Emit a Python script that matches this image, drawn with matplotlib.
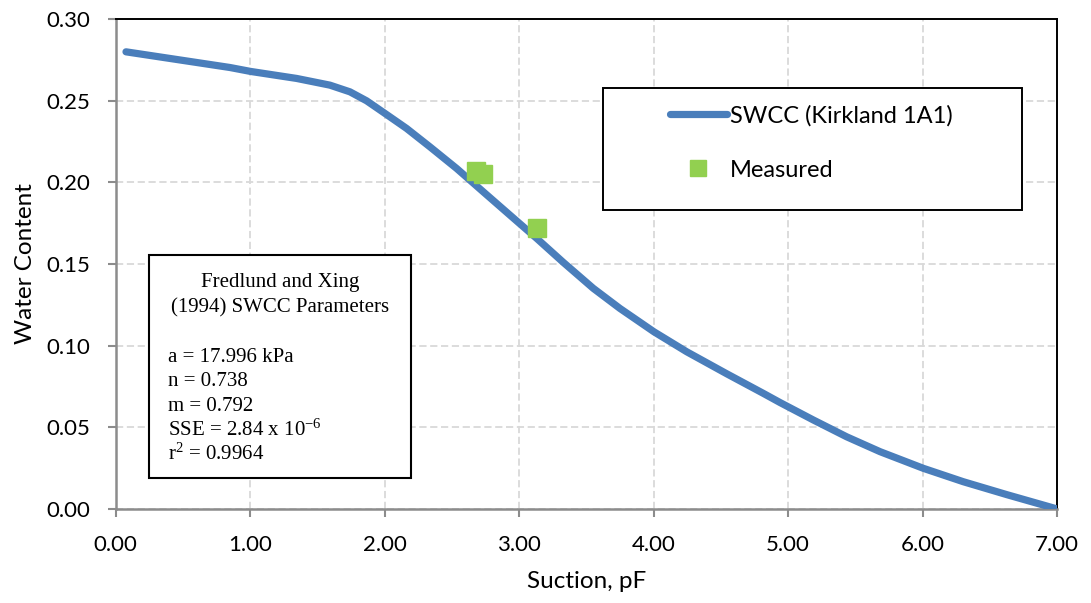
import matplotlib
matplotlib.use("Agg")
import matplotlib.pyplot as plt

# SWCC curve (suction in pF vs gravimetric water content)
suction_pf = [0.077, 0.85, 1.003, 1.346, 1.593, 1.742, 1.866, 2.002, 2.163, 2.337,
              2.535, 2.733, 2.932, 3.13, 3.328, 3.551, 3.749, 4.002, 4.245, 4.543,
              4.815, 4.939, 5.187, 5.435, 5.683, 6.005, 6.302, 6.625, 7.0]
water_content = [0.2799, 0.2703, 0.2679, 0.2636, 0.2595, 0.2554, 0.2499, 0.2422,
                 0.2330, 0.2217, 0.2085, 0.1942, 0.1799, 0.1657, 0.1510, 0.1351,
                 0.1228, 0.1085, 0.0963, 0.0828, 0.0708, 0.0652, 0.0545, 0.0442,
                 0.0351, 0.0249, 0.0167, 0.0088, 0.0000]

# Laboratory measurements
measured_pf = [2.68, 2.73, 3.135]
measured_wc = [0.2067, 0.2054, 0.1718]

x_ticks = [0, 1, 2, 3, 4, 5, 6, 7]
y_ticks = [0.00, 0.05, 0.10, 0.15, 0.20, 0.25, 0.30]

title_lines = ["Fredlund and Xing", "(1994) SWCC Parameters"]
param_lines = ["a = 17.996 kPa", "n = 0.738", "m = 0.792",
               "SSE = 2.84 x 10$^{-6}$", "r$^{2}$ = 0.9964"]

line_color = "#4a7ebb"
marker_color = "#92d050"
grid_color = "#d9d9d9"
axis_gray = "#8c8c8c"
sans = ["Lato", "DejaVu Sans"]
serif = ["Liberation Serif", "DejaVu Serif"]

plt.rcParams["mathtext.fontset"] = "custom"
plt.rcParams["mathtext.rm"] = "Liberation Serif"
plt.rcParams["mathtext.it"] = "Liberation Serif:italic"

fig = plt.figure(figsize=(10.91, 6.03), dpi=100)
ax = fig.add_axes([0.106, 0.1559, 0.863, 0.8126])

ax.plot(suction_pf, water_content, color=line_color, lw=5.2,
        solid_capstyle="round", solid_joinstyle="round",
        label="SWCC (Kirkland 1A1)", zorder=3)
ax.plot(measured_pf, measured_wc, ls="none", marker="s", ms=13.5,
        color=marker_color, mec=marker_color, label="Measured", zorder=4)

ax.set_xlim(0, 7)
ax.set_ylim(0, 0.30)
ax.set_xticks(x_ticks)
ax.set_yticks(y_ticks)
ax.set_xticklabels([f"{v:.2f}" for v in x_ticks], fontfamily=sans, fontsize=16)
ax.set_yticklabels([f"{v:.2f}" for v in y_ticks], fontfamily=sans, fontsize=16)

ax.grid(True, color=grid_color, ls=(0, (4, 2)), lw=1.3, zorder=0)
ax.set_axisbelow(True)

for side in ("left", "bottom"):
    ax.spines[side].set_color(axis_gray)
    ax.spines[side].set_linewidth(1.8)
for side in ("top", "right"):
    ax.spines[side].set_color("black")
    ax.spines[side].set_linewidth(1.4)
ax.tick_params(direction="out", length=6, width=1.5, color=axis_gray,
               labelcolor="black")
ax.tick_params(axis="x", pad=13)
ax.tick_params(axis="y", pad=12)

ax.set_xlabel("Suction, pF", fontfamily=sans, fontsize=17.5, labelpad=11)
ax.set_ylabel("Water Content", fontfamily=sans, fontsize=17.5, labelpad=8)

# Legend with a separate rectangular frame
leg = ax.legend(loc="upper left", bbox_to_anchor=(0.5884, 0.8245),
                frameon=False, prop={"family": sans, "size": 17},
                handlelength=2.42, handletextpad=0.13, labelspacing=1.4,
                borderpad=0, markerscale=0.82, borderaxespad=0)
ax.add_patch(plt.Rectangle((0.5181, 0.6102), 0.4444, 0.2482,
                           transform=ax.transAxes, facecolor="white",
                           edgecolor="black", lw=1.4, zorder=5))
leg.set_zorder(6)

# Parameter box
ax.add_patch(plt.Rectangle((0.0354, 0.0627), 0.2780, 0.4557,
                           transform=ax.transAxes, facecolor="white",
                           edgecolor="black", lw=1.5, zorder=5))
title_y = [0.4524, 0.4010]
param_y = [0.3006, 0.2504, 0.2000, 0.1496, 0.0994]
for txt, yy in zip(title_lines, title_y):
    ax.text(0.1745, yy, txt, transform=ax.transAxes, ha="center",
            va="baseline", fontfamily=serif, fontsize=15, zorder=6)
for txt, yy in zip(param_lines, param_y):
    ax.text(0.0556, yy, txt, transform=ax.transAxes, ha="left",
            va="baseline", fontfamily=serif, fontsize=15, zorder=6)

fig.savefig("out.png", dpi=100)
